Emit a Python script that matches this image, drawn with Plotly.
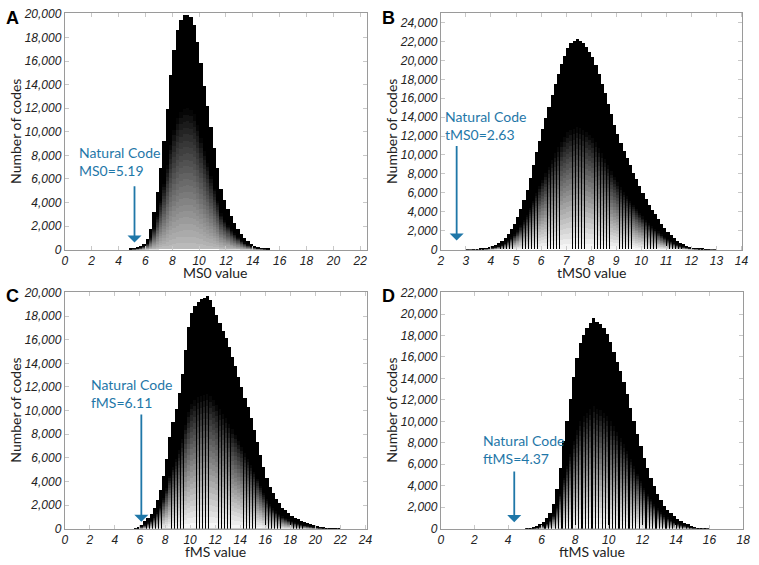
import plotly.graph_objects as go

# ---------------- data ----------------
# Panel A: MS0 value histogram, bins of 0.25 starting at 4.75
ms0_start = 4.75
ms0_width = 0.25
ms0_counts = [40, 90, 170, 290, 500, 900, 1700, 3150, 4850, 6900, 9200, 11900,
              14800, 16900, 18600, 19500, 19900, 19950, 19750, 19100, 17600,
              15800, 13900, 12200, 10400, 8600, 6900, 5100, 4200, 3450, 2800,
              2250, 1750, 1300, 950, 680, 470, 320, 210, 130, 80, 40]

# Panel B: tMS0 value histogram, bins of 0.125 starting at 3.0
tms0_start = 3.0
tms0_width = 0.125
tms0_counts = [5, 10, 20, 35, 50, 70, 130, 210, 320, 470, 650, 870, 1200, 1650,
               2150, 2700, 3400, 4300, 5250, 6300, 7600, 8900, 10300, 11500,
               12700, 13900, 15100, 16300, 17500, 18600, 19600, 20500, 21300,
               21800, 22000, 22300, 22050, 21800, 21450, 20900, 20350, 19500,
               18500, 17500, 16500, 15400, 14300, 13200, 12200, 11300, 10450,
               9700, 8900, 8100, 7400, 6700, 6000, 5350, 4750, 4200, 3700, 3200,
               2700, 2250, 1850, 1500, 1200, 920, 700, 530, 390, 280, 200, 140,
               90, 55, 35, 20, 10, 5]

# Panel C: fMS value histogram, bins of 0.25 starting at 5.5
fms_start = 5.5
fms_width = 0.25
fms_counts = [20, 150, 380, 650, 950, 1270, 1800, 2450, 3350, 4500, 5950, 7800,
              9100, 10200, 11500, 13100, 15200, 17100, 18300, 18900, 19250,
              19450, 19600, 19700, 19400, 18800, 18100, 17450, 16800, 16200,
              15400, 14600, 13800, 12900, 12000, 11100, 10300, 9400, 8400, 7350,
              6300, 5250, 4350, 3600, 3050, 2580, 2180, 1830, 1580, 1360, 1150,
              980, 840, 720, 600, 500, 410, 330, 260, 210, 170, 130, 100, 70,
              45, 25]

# Panel D: ftMS value histogram, bins of 0.2 starting at 5.0
ftms_start = 5.0
ftms_width = 0.2
ftms_counts = [20, 80, 190, 310, 460, 640, 1000, 1500, 2300, 3700, 5700, 8200,
               10100, 12100, 14200, 15900, 17350, 18100, 18700, 19200, 19700,
               19300, 19100, 18700, 18150, 17400, 16500, 15600, 14700, 13700,
               12600, 11300, 10100, 8900, 7700, 6650, 5700, 4800, 4000, 3250,
               2700, 2150, 1800, 1480, 1180, 950, 750, 580, 440, 320, 220, 140,
               80, 40, 15]

panel_letters = ["A", "B", "C", "D"]
x_titles = ["MS0 value", "tMS0 value", "fMS value", "ftMS value"]
natural_labels = ["MS0", "tMS0", "fMS", "ftMS"]
natural_values = [5.19, 2.63, 6.11, 4.37]
x_ranges = [[0, 22.5], [2, 14.04], [0, 24.1], [0, 18]]
x_dticks = [2, 1, 2, 2]
y_ranges = [[0, 20080], [0, 25000], [0, 20080], [0, 22090]]
y_dtick = 2000

# ---------------- styling / layout helpers ----------------
W, H = 759, 565
BLUE = "#1f77a8"
# plot-area pixel boxes (left, right, top, bottom)
boxes = [(61.7, 368.3, 7.3, 249.3), (443.3, 749.3, 7.3, 249.3),
         (61.7, 368.0, 292.3, 535.0), (443.3, 750.0, 292.3, 535.0)]
inner_frac = [1.0, 0.62, 0.62, 0.62]
bottom_gray = [190, 250, 250, 250]
dark_from = [0.6, 0.58, 0.58, 0.58]
# annotation placement (text anchor in data coords, arrow tail/tip heights)
text_pos = [(0.9, 7490), (2.09, 13100), (1.9, 11450), (2.39, 7370)]
arrow_y = [(5500, 600), (11100, 960), (9800, 580), (5460, 610)]

series = [(ms0_start, ms0_width, ms0_counts), (tms0_start, tms0_width, tms0_counts),
          (fms_start, fms_width, fms_counts), (ftms_start, ftms_width, ftms_counts)]

NSEG = 22


def clamp(v):
    return min(1.0, max(0.0, v))


def px_x(p):
    return p / W


def px_y(p):
    return 1 - p / H


fig = go.Figure()
for i, (start, bw, counts) in enumerate(series):
    xa = "x" if i == 0 else f"x{i+1}"
    ya = "y" if i == 0 else f"y{i+1}"
    centers = [start + bw * (k + 0.5) for k in range(len(counts))]
    # black full-width bar (forms the dark bar edges and the dark top)
    fig.add_trace(go.Bar(x=centers, y=counts, width=bw, xaxis=xa, yaxis=ya,
                         marker=dict(color="black", line=dict(width=0)),
                         hoverinfo="skip", showlegend=False))
    # per-bar vertical gradient (light at the bottom, black above dark_from)
    df = dark_from[i]
    for s in range(NSEG):
        f0 = df * s / NSEG
        f1 = df * (s + 1) / NSEG
        fm = (f0 + f1) / 2
        g = int(round(bottom_gray[i] * (1 - fm / df) ** 0.9))
        fig.add_trace(go.Bar(x=centers, y=[c * (f1 - f0) * 1.02 for c in counts],
                             base=[c * f0 for c in counts],
                             width=bw * inner_frac[i], xaxis=xa, yaxis=ya,
                             marker=dict(color=f"rgb({g},{g},{g})", line=dict(width=0)),
                             hoverinfo="skip", showlegend=False))

layout = dict(width=W, height=H, margin=dict(l=0, r=0, t=0, b=0),
              paper_bgcolor="white", plot_bgcolor="white", barmode="overlay",
              bargap=0, showlegend=False, hovermode=False)

tickfont = dict(family="Liberation Sans, Arial, sans-serif", size=12,
                color="#222", style="italic")
annotations = []
for i in range(4):
    l, r, t, b = boxes[i]
    sfx = "" if i == 0 else str(i + 1)
    layout["xaxis" + sfx] = dict(
        domain=[clamp(px_x(l)), clamp(px_x(r))], range=x_ranges[i], anchor="y" + sfx,
        tick0=0, dtick=x_dticks[i], ticks="inside", ticklen=4,
        tickcolor="#c8c8c8", showline=True, linecolor="#9a9a9a", linewidth=1,
        mirror="ticks", showgrid=False, zeroline=False, tickfont=tickfont,
        fixedrange=True)
    layout["yaxis" + sfx] = dict(
        domain=[clamp(px_y(b)), clamp(px_y(t))], range=y_ranges[i], anchor="x" + sfx,
        tick0=0, dtick=y_dtick, tickformat=",d", ticks="inside", ticklen=4,
        tickcolor="#c8c8c8", showline=True, linecolor="#9a9a9a", linewidth=1,
        mirror="ticks", showgrid=False, zeroline=False, tickfont=tickfont,
        fixedrange=True)

    xref = "x" + sfx
    yref = "y" + sfx
    # panel letter
    annotations.append(dict(text=f"<b>{panel_letters[i]}</b>", x=px_x(l - 53),
                            y=px_y(t + 4.5), xref="paper", yref="paper",
                            showarrow=False, xanchor="center", yanchor="middle",
                            font=dict(family="Liberation Sans, Arial", size=18,
                                      color="black")))
    # y title
    annotations.append(dict(text="Number of codes", x=px_x(l - 50),
                            y=px_y((t + b) / 2), xref="paper", yref="paper",
                            textangle=-90, showarrow=False, xanchor="center",
                            yanchor="middle",
                            font=dict(family="Lato", size=14, color="#222")))
    # x title
    annotations.append(dict(text=x_titles[i], x=px_x((l + r) / 2),
                            y=px_y(b + 23.5), xref="paper", yref="paper",
                            showarrow=False, xanchor="center", yanchor="middle",
                            font=dict(family="Lato", size=14, color="#222")))
    # natural code label
    tx, ty = text_pos[i]
    annotations.append(dict(
        text=f"Natural Code<br>{natural_labels[i]}={natural_values[i]:.2f}",
        x=tx, y=ty, xref=xref, yref=yref, showarrow=False, xanchor="left",
        yanchor="middle", align="left",
        font=dict(family="Lato", size=14, color=BLUE)))
    # arrow
    ay0, ay1 = arrow_y[i]
    annotations.append(dict(text="", x=natural_values[i], y=ay1,
                            ax=natural_values[i], ay=ay0, xref=xref, yref=yref,
                            axref=xref, ayref=yref, showarrow=True, arrowhead=1,
                            arrowsize=1.3, arrowwidth=1.8, arrowcolor=BLUE,
                            standoff=0, startstandoff=0))

layout["annotations"] = annotations
fig.update_layout(**layout)
# remove the browser's default 8px page margin so the figure fills the window
fig.write_html("out.html",
               config={"displayModeBar": False, "staticPlot": False},
               post_script="document.body.style.margin='0';"
                           "document.body.style.overflow='hidden';")
